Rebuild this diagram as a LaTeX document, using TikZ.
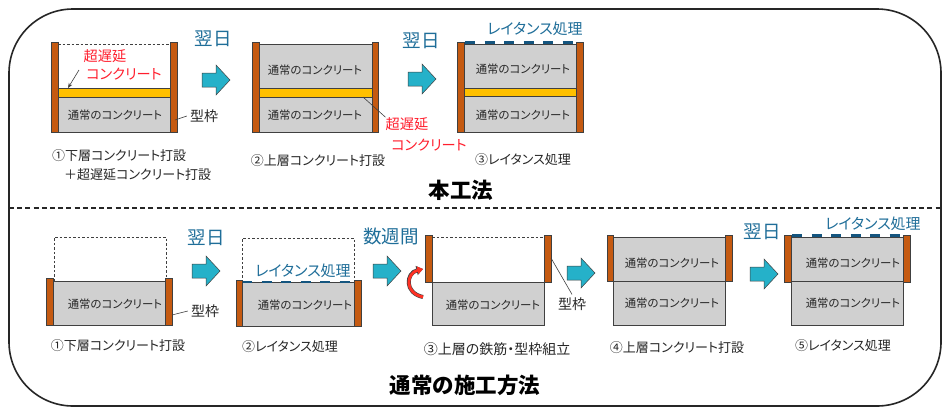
\documentclass[tikz,border=0pt]{standalone}
\usepackage{fontspec}
\setmainfont[RawFeature=+palt]{Noto Sans CJK JP}
\usetikzlibrary{arrows.meta}
\definecolor{postc}{HTML}{C55A11}
\definecolor{grayc}{HTML}{D0D0D0}
\definecolor{yelc}{HTML}{FFC000}
\definecolor{arrc}{HTML}{25B1C9}
\definecolor{tealc}{HTML}{1F6E99}
\definecolor{dashc}{HTML}{14557F}
\definecolor{redc}{HTML}{FF1E2D}
\definecolor{linec}{HTML}{404040}
\definecolor{txtc}{HTML}{262626}
\tikzset{
  post/.style={fill=postc,draw=linec,line width=0.7pt},
  conc/.style={fill=grayc,draw=linec,line width=0.7pt},
  retard/.style={fill=yelc,draw=linec,line width=0.7pt},
  dotted top/.style={draw=linec,line width=0.7pt,dash pattern=on 2.5pt off 2pt},
  laitance/.style={draw=dashc,line width=2.6pt,dash pattern=on 10pt off 9.5pt},
  leader/.style={draw=linec,line width=0.6pt},
  concl/.style={text=txtc,inner sep=0pt,font=\fontsize{11.4}{13}\selectfont},
  stepl/.style={text=txtc,inner sep=0pt,font=\fontsize{13}{15}\selectfont},
  framel/.style={text=txtc,inner sep=0pt,font=\fontsize{14}{15}\selectfont},
  dayl/.style={text=tealc,inner sep=0pt,font=\fontsize{18.5}{20}\selectfont},
  latl/.style={text=tealc,inner sep=0pt,font=\fontsize{15}{16}\selectfont},
  redl/.style={text=redc,inner sep=0pt,font=\fontsize{14.2}{16}\selectfont},
  titlel/.style={text=black,inner sep=0pt,font=\fontsize{21.5}{24}\selectfont\bfseries},
  flow/.style={fill=arrc,draw=linec,line width=0.5pt},
}
% x, y of the arrow's left end of the shaft and its centre line
\newcommand{\flowarrow}[2]{%
  \draw[flow] (#1,#2-7) -- (#1+14,#2-7) -- (#1+14,#2-15) -- (#1+28,#2) -- (#1+14,#2+15) -- (#1+14,#2+7) -- (#1,#2+7) -- cycle;}
\begin{document}
\begin{tikzpicture}[x=1pt,y=-1pt]
\useasboundingbox[fill=white] (0,0) rectangle (950,416);
\draw[black!85,line width=1.6pt,rounded corners=64pt] (9,9) rectangle (941,406);
\draw[black!85,line width=1.1pt,dash pattern=on 5pt off 3.2pt] (9,208) -- (941,208);

% ---- upper row, panel 1
\draw[dotted top] (58,44) -- (170,44);
\draw[retard] (58,88) rectangle (170,97);
\draw[conc] (58,97) rectangle (170,132);
\draw[post] (51,42) rectangle (58,132);
\draw[post] (170,42) rectangle (177,132);
\node[concl] (a1c) at (115,115) {通常のコンクリート};
\node[redl] (a1r1) at (105,56) {超遅延};
\node[redl] (a1r2) at (124,74) {コンクリート};
\coordinate (a1y) at (68,88);
\coordinate (a1n) at (79,70);
\draw[leader,-{Stealth[length=5pt,width=4pt]}] (a1n) -- (a1y);
\node[framel] (a1f) at (204,116) {型枠};
\coordinate (a1p) at (175,120);
\draw[leader] (a1p) -- ([xshift=-3pt]a1f.west);
\node[stepl,anchor=west] (a1s1) at (52,156) {①下層コンクリート打設};
\node[stepl,anchor=west] (a1s2) at (64,175) {＋超遅延コンクリート打設};
\node[dayl] (a1d) at (213,39) {翌日};
\flowarrow{202}{80}

% ---- upper row, panel 2
\draw[conc] (259,44) rectangle (372,88);
\draw[retard] (259,88) rectangle (372,97);
\draw[conc] (259,97) rectangle (372,132);
\draw[post] (252,42) rectangle (259,132);
\draw[post] (372,42) rectangle (378,132);
\node[concl] (a2c1) at (315,70) {通常のコンクリート};
\node[concl] (a2c2) at (315,115) {通常のコンクリート};
\node[redl] (a2r1) at (407,124) {超遅延};
\node[redl] (a2r2) at (429,145) {コンクリート};
\coordinate (a2y) at (363,97);
\draw[leader] (a2y) -- (a2r1.north west);
\node[stepl] (a2s) at (318,161) {②上層コンクリート打設};
\node[dayl] (a2d) at (421,41) {翌日};
\flowarrow{408}{79}

% ---- upper row, panel 3
\draw[conc] (464,44) rectangle (576,88);
\draw[retard] (464,88) rectangle (576,96);
\draw[conc] (464,96) rectangle (576,132);
\draw[laitance] (465,42.5) -- (573,42.5);
\draw[post] (457,42) rectangle (464,132);
\draw[post] (576,42) rectangle (583,132);
\node[concl] (a3c1) at (523,69) {通常のコンクリート};
\node[concl] (a3c2) at (523,115) {通常のコンクリート};
\node[latl] (a3l) at (535,29) {レイタンス処理};
\node[stepl] (a3s) at (523,160) {③レイタンス処理};
\node[titlel] (tA) at (461,190) {本工法};

% ---- lower row, panel 1
\draw[dotted top] (54,281) -- (54,237) -- (166,237) -- (166,281);
\draw[conc] (53,281) rectangle (165,325);
\draw[dotted top] (53,281) -- (165,281);
\draw[post] (46,278) rectangle (53,325);
\draw[post] (165,278) rectangle (172,325);
\node[concl] (b1c) at (115,304) {通常のコンクリート};
\node[framel] (b1f) at (205,311) {型枠};
\coordinate (b1p) at (172,315);
\draw[leader] (b1p) -- ([xshift=-3pt]b1f.west);
\node[stepl] (b1s) at (118,346) {①下層コンクリート打設};
\node[dayl] (b1d) at (206,238) {翌日};
\flowarrow{192}{271}

% ---- lower row, panel 2
\draw[dotted top] (242,282) -- (242,238) -- (354,238) -- (354,282);
\draw[conc] (242,282) rectangle (354,326);
\draw[laitance] (242,282) -- (354,282);
\draw[post] (236,280) rectangle (242,326);
\draw[post] (354,280) rectangle (361,326);
\node[concl] (b2c) at (305,305) {通常のコンクリート};
\node[latl] (b2l) at (303,271) {レイタンス処理};
\node[stepl] (b2s) at (290,347) {②レイタンス処理};
\node[dayl] (b2d) at (391,236) {数週間};
\flowarrow{373}{271}

% ---- lower row, panel 3
\draw[dotted top] (432,237) -- (544,237);
\draw[conc] (432,282) rectangle (544,325);
\draw[post] (425,235) rectangle (432,282);
\draw[post] (544,235) rectangle (551,282);
\node[concl] (b3c) at (493,305) {通常のコンクリート};
\node[framel] (b3f) at (572,304) {型枠};
\coordinate (b3p) at (551,258);
\draw[leader] (b3p) -- ([yshift=3pt]b3f.north);
\node[stepl,font=\fontsize{14}{15}\selectfont] (b3s) at (497,349) {③上層の鉄筋・型枠組立};
\coordinate (b3ra) at (423,297);
\coordinate (b3rb) at (423,269);
\draw[linec,line width=4pt,-{Triangle[length=6.5pt,width=9pt]}] (b3ra) .. controls (404,293) and (406,273) .. (b3rb);
\draw[redc!80!orange,line width=2.8pt,-{Triangle[length=5.5pt,width=7.5pt]}] (b3ra) .. controls (404,293) and (406,273) .. (b3rb);
\flowarrow{567}{273}

% ---- lower row, panel 4
\draw[conc] (613,237) rectangle (725,281);
\draw[conc] (613,281) rectangle (725,325);
\draw[post] (607,235) rectangle (613,281);
\draw[post] (725,235) rectangle (732,281);
\node[concl] (b4c1) at (672,263) {通常のコンクリート};
\node[concl] (b4c2) at (672,303) {通常のコンクリート};
\node[stepl] (b4s) at (677,348) {④上層コンクリート打設};
\node[dayl] (b4d) at (762,232) {翌日};
\flowarrow{750}{274}

% ---- lower row, panel 5
\draw[conc] (791,237) rectangle (903,281);
\draw[conc] (791,281) rectangle (903,325);
\draw[laitance] (792,235.5) -- (901,235.5);
\draw[post] (784,235) rectangle (791,282);
\draw[post] (903,235) rectangle (910,282);
\node[concl] (b5c1) at (853,263) {通常のコンクリート};
\node[concl] (b5c2) at (853,303) {通常のコンクリート};
\node[latl] (b5l) at (873,224) {レイタンス処理};
\node[stepl] (b5s) at (843,346) {⑤レイタンス処理};
\node[titlel] (tB) at (465,385) {通常の施工方法};
\end{tikzpicture}
\end{document}
